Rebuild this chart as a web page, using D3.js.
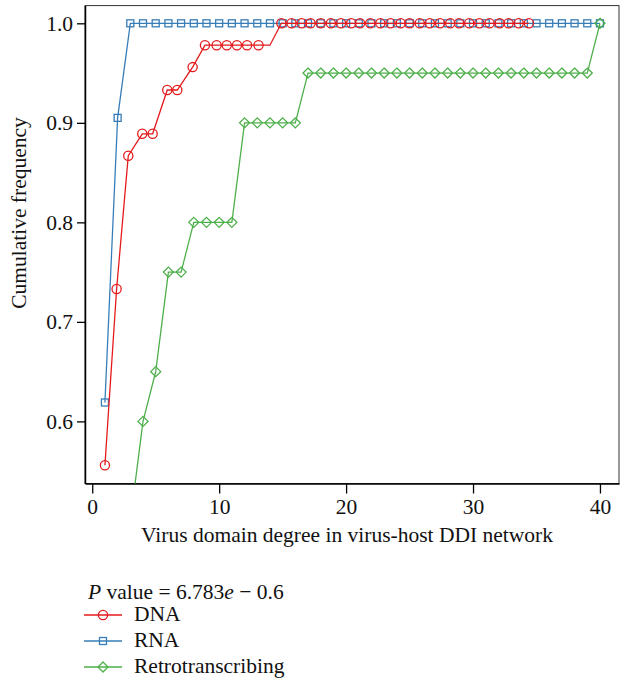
<!DOCTYPE html>
<html>
<head>
<meta charset="utf-8">
<script src="https://cdn.jsdelivr.net/npm/d3@7"></script>
<style>
  body { margin: 0; background: #fff; }
  text { font-family: "Liberation Serif", "DejaVu Serif", serif; fill: #111; }
</style>
</head>
<body>
<div id="chart"></div>
<script>
// values
const xTicks = [0, 10, 20, 30, 40];
const yTicks = [0.6, 0.7, 0.8, 0.9, 1.0];

const dnaX = [1, 1.92, 2.84, 3.94, 4.76, 5.91, 6.7, 7.91, 8.88, 9.8, 10.6, 11.4, 12.2, 13.1, 14.0,
  14.9, 15.7, 16.5, 17.2, 18.0, 18.8, 19.6, 20.4, 21.1, 21.9, 22.7, 23.5, 24.3, 25.0, 25.8, 26.6,
  27.4, 28.2, 28.9, 29.7, 30.5, 31.3, 32.1, 32.8, 33.6, 34.4];
const dnaY = [0.556, 0.733, 0.867, 0.889, 0.889, 0.933, 0.933, 0.956, 0.978, 0.978, 0.978, 0.978, 0.978, 0.978, 0.978,
  1, 1, 1, 1, 1, 1, 1, 1, 1, 1, 1, 1, 1, 1, 1, 1,
  1, 1, 1, 1, 1, 1, 1, 1, 1, 1];
const dnaUnmarked = [14.0];

const rnaX = [1, 2, 3, 4, 5, 6, 7, 8, 9, 10, 11, 12, 13, 14, 15, 16, 17, 18, 19, 20,
  21, 22, 23, 24, 25, 26, 27, 28, 29, 30, 31, 32, 33, 34, 35, 36, 37, 38, 39, 40];
const rnaY = [0.619, 0.905, 1, 1, 1, 1, 1, 1, 1, 1, 1, 1, 1, 1, 1, 1, 1, 1, 1, 1,
  1, 1, 1, 1, 1, 1, 1, 1, 1, 1, 1, 1, 1, 1, 1, 1, 1, 1, 1, 1];

const retroX = [3, 4, 5, 6, 7, 8, 9, 10, 11, 12, 13, 14, 15, 16, 17, 18, 19, 20,
  21, 22, 23, 24, 25, 26, 27, 28, 29, 30, 31, 32, 33, 34, 35, 36, 37, 38, 39, 40];
const retroY = [0.5, 0.6, 0.65, 0.75, 0.75, 0.8, 0.8, 0.8, 0.8, 0.9, 0.9, 0.9, 0.9, 0.9, 0.95, 0.95, 0.95, 0.95,
  0.95, 0.95, 0.95, 0.95, 0.95, 0.95, 0.95, 0.95, 0.95, 0.95, 0.95, 0.95, 0.95, 0.95, 0.95, 0.95, 0.95, 0.95, 0.95, 1];

const seriesNames = ["DNA", "RNA", "Retrotranscribing"];
const pText = ["P", " value = 6.783", "e", " \u2212 0.6"];

// layout
const W = 623, H = 678;
const plot = {left: 85, right: 619, top: 5.6, bottom: 483.5};
const fs = 21.5;

const svg = d3.select("#chart").append("svg")
    .attr("width", W)
    .attr("height", H);

const x = d3.scaleLinear().domain([-0.57, 41.5]).range([plot.left, plot.right]);
const y = d3.scaleLinear().domain([0.5376, 1.0178]).range([plot.bottom, plot.top]);

svg.append("clipPath").attr("id", "clip")
  .append("rect")
    .attr("x", plot.left).attr("y", plot.top)
    .attr("width", plot.right - plot.left).attr("height", plot.bottom - plot.top);

// frame
svg.append("rect")
    .attr("x", plot.left).attr("y", plot.top)
    .attr("width", plot.right - plot.left).attr("height", plot.bottom - plot.top)
    .attr("fill", "none").attr("stroke", "#333").attr("stroke-width", 1);

// axes
const xAxis = svg.append("g")
    .attr("transform", "translate(0," + plot.bottom + ")")
    .call(d3.axisBottom(x).tickValues(xTicks).tickSizeInner(10).tickSizeOuter(0).tickPadding(5).tickFormat(d3.format("d")));
const yAxis = svg.append("g")
    .attr("transform", "translate(" + plot.left + ",0)")
    .call(d3.axisLeft(y).tickValues(yTicks).tickSizeInner(8).tickSizeOuter(0).tickPadding(4).tickFormat(d3.format(".1f")));
[xAxis, yAxis].forEach(g => {
  g.selectAll("path").attr("stroke", "#000").attr("stroke-width", 1.5);
  g.selectAll("line").attr("stroke", "#000").attr("stroke-width", 1.3);
  g.selectAll("text").attr("font-size", fs).attr("font-family", "Liberation Serif").attr("fill", "#111");
});

svg.append("text")
    .attr("x", (plot.left + plot.right) / 2 - 5)
    .attr("y", 542)
    .attr("text-anchor", "middle")
    .attr("font-size", fs)
    .text("Virus domain degree in virus-host DDI network");

svg.append("text")
    .attr("transform", "translate(26,213) rotate(-90)")
    .attr("text-anchor", "middle")
    .attr("font-size", fs)
    .text("Cumulative frequency");

// marker shapes
const colors = {DNA: "#e41a1c", RNA: "#377eb8", Retrotranscribing: "#4daf4a"};
function marker(g, name, cx, cy) {
  const c = colors[name];
  if (name === "DNA") {
    g.append("circle").attr("cx", cx).attr("cy", cy).attr("r", 4.6)
      .attr("fill", "none").attr("stroke", c).attr("stroke-width", 1.3);
  } else if (name === "RNA") {
    g.append("rect").attr("x", cx - 3.5).attr("y", cy - 3.5).attr("width", 7).attr("height", 7)
      .attr("fill", "none").attr("stroke", c).attr("stroke-width", 1.3);
  } else {
    g.append("path").attr("d", `M${cx},${cy - 5}L${cx + 5},${cy}L${cx},${cy + 5}L${cx - 5},${cy}Z`)
      .attr("fill", "none").attr("stroke", c).attr("stroke-width", 1.3);
  }
}

const series = [
  {name: "RNA", xs: rnaX, ys: rnaY, skip: []},
  {name: "DNA", xs: dnaX, ys: dnaY, skip: dnaUnmarked},
  {name: "Retrotranscribing", xs: retroX, ys: retroY, skip: []}
];

const plotG = svg.append("g").attr("clip-path", "url(#clip)");
const line = d3.line().x(d => x(d[0])).y(d => y(d[1]));

series.forEach(s => {
  const pts = s.xs.map((v, i) => [v, s.ys[i]]);
  const g = plotG.append("g");
  g.append("path")
    .attr("d", line(pts))
    .attr("fill", "none")
    .attr("stroke", colors[s.name])
    .attr("stroke-width", 1.3);
  pts.filter(p => !s.skip.includes(p[0]))
    .forEach(p => marker(g, s.name, x(p[0]), y(p[1])));
});

// legend
const pLabel = svg.append("text").attr("x", 88).attr("y", 599).attr("font-size", fs);
pText.forEach((t, i) => {
  pLabel.append("tspan").attr("font-style", (i === 0 || i === 2) ? "italic" : "normal").text(t);
});

const legendRows = [615, 641, 667];
seriesNames.forEach((name, i) => {
  const ly = legendRows[i];
  const g = svg.append("g");
  g.append("line").attr("x1", 84).attr("x2", 122).attr("y1", ly).attr("y2", ly)
    .attr("stroke", colors[name]).attr("stroke-width", 1.3);
  marker(g, name, 103, ly);
  g.append("text").attr("x", 134).attr("y", ly + 6).attr("font-size", fs).text(name);
});
</script>
</body>
</html>
